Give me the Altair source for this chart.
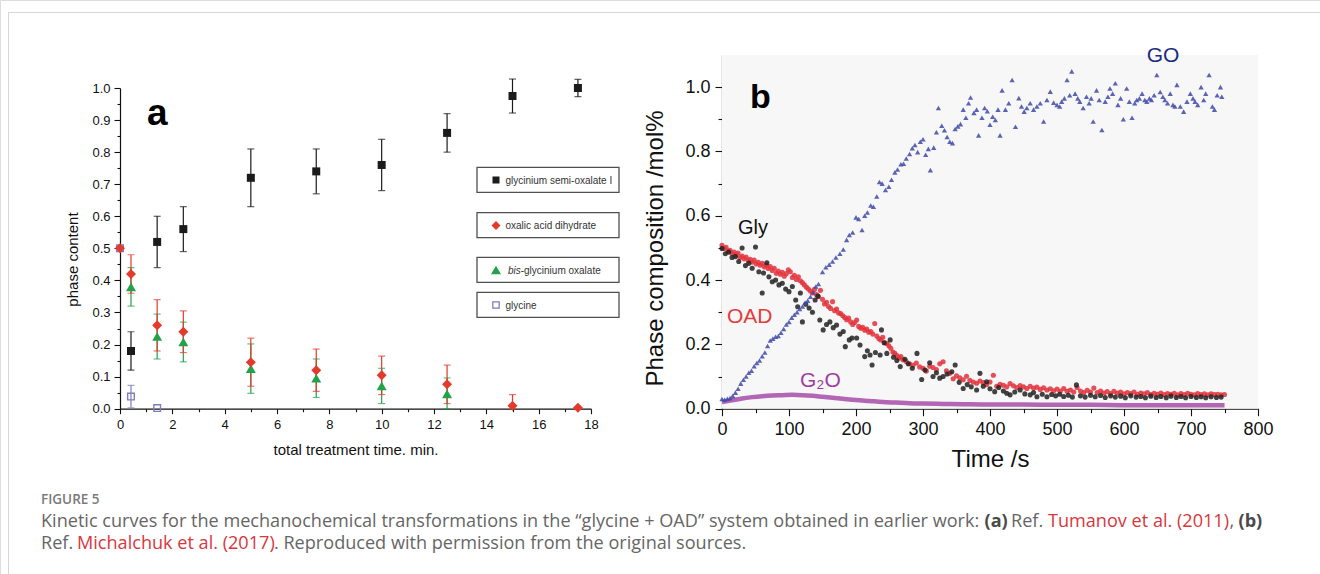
import altair as alt
import pandas as pd

W, H = 1320, 574
FONT = "Liberation Sans"
CAP_FONT = "Open Sans"

# ---------------- panel (a): phase content vs. total treatment time, min
a_time = [0.42, 1.42, 2.42, 5.0, 7.5, 10.0, 12.5, 15.0, 17.5]
semi_oxalate = [0.18, 0.52, 0.56, 0.72, 0.74, 0.76, 0.86, 0.975, 1.0]
semi_oxalate_err = [0.06, 0.08, 0.07, 0.09, 0.07, 0.08, 0.06, 0.053, 0.027]

oad_a_time = [0.0, 0.42, 1.42, 2.42, 5.0, 7.5, 10.0, 12.5, 15.0, 17.5]
oad_a = [0.50, 0.42, 0.26, 0.24, 0.145, 0.12, 0.104, 0.076, 0.009, 0.003]
oad_a_err = [0.0, 0.06, 0.08, 0.065, 0.075, 0.066, 0.06, 0.06, 0.035, 0.0]

bis_time = [0.42, 1.42, 2.42, 5.0, 7.5, 10.0, 12.5]
bis_oxalate = [0.38, 0.225, 0.208, 0.125, 0.095, 0.071, 0.046]
bis_err = [0.06, 0.07, 0.062, 0.077, 0.06, 0.055, 0.05]

gly_a_time = [0.0, 0.42, 1.42]
glycine_a = [0.50, 0.038, 0.002]
glycine_a_err = [0.0, 0.035, 0.0]

legend_labels = ["glycinium semi-oxalate I", "oxalic acid dihydrate",
                 "-glycinium oxalate", "glycine"]

# ---------------- panel (b): in situ phase composition vs. time, s
go_t = [0, 4, 8, 12, 16, 20, 24, 28, 32, 36,
        40, 44, 48, 52, 56, 60, 64, 68, 72, 76,
        80, 84, 88, 92, 96, 100, 104, 108, 112, 116,
        120, 124, 128, 132, 136, 140, 144, 150, 155, 160,
        165, 170, 176, 181, 186, 190, 195, 200, 204, 209,
        213, 217, 222, 226, 231, 235, 239, 244, 249, 253,
        258, 262, 267, 271, 275, 280, 284, 288, 292, 296,
        300, 304, 308, 311, 316, 320, 323, 328, 332, 336,
        340, 344, 348, 352, 356, 360, 364, 368, 371, 376,
        380, 383, 388, 392, 396, 400, 404, 408, 412, 415,
        418, 423, 428, 433, 438, 443, 447, 451, 455, 460,
        465, 470, 475, 480, 485, 490, 495, 500, 504, 507,
        511, 515, 519, 522, 527, 531, 534, 539, 544, 548,
        551, 554, 559, 563, 567, 572, 576, 579, 583, 587,
        591, 595, 599, 604, 608, 612, 616, 619, 623, 627,
        631, 634, 638, 641, 645, 649, 654, 658, 661, 665,
        669, 673, 676, 679, 684, 689, 694, 699, 703, 706,
        710, 715, 719, 722, 727, 732, 735, 739, 744, 746]
go_v = [0.030, 0.028, 0.031, 0.033, 0.040, 0.050, 0.062, 0.078, 0.090, 0.100,
        0.112, 0.118, 0.132, 0.142, 0.150, 0.163, 0.175, 0.195, 0.212, 0.218,
        0.224, 0.226, 0.236, 0.248, 0.262, 0.270, 0.283, 0.292, 0.300, 0.310,
        0.318, 0.330, 0.336, 0.348, 0.362, 0.380, 0.388, 0.425, 0.440, 0.448,
        0.458, 0.470, 0.482, 0.495, 0.525, 0.540, 0.548, 0.595, 0.590, 0.556,
        0.600, 0.610, 0.632, 0.628, 0.660, 0.705, 0.700, 0.680, 0.690, 0.712,
        0.735, 0.744, 0.760, 0.762, 0.778, 0.792, 0.810, 0.820, 0.798, 0.830,
        0.838, 0.790, 0.808, 0.742, 0.812, 0.860, 0.935, 0.880, 0.866, 0.845,
        0.830, 0.826, 0.870, 0.878, 0.885, 0.930, 0.905, 0.950, 0.968, 0.920,
        0.930, 0.850, 0.905, 0.935, 0.925, 0.883, 0.908, 0.898, 0.930, 0.850,
        0.990, 0.930, 0.950, 1.022, 0.877, 0.966, 0.940, 0.924, 0.935, 0.950,
        0.930, 0.940, 0.950, 0.893, 0.960, 0.986, 0.952, 0.945, 0.940, 0.955,
        0.965, 1.022, 0.975, 1.049, 0.980, 0.965, 0.955, 0.935, 0.970, 0.950,
        0.965, 0.893, 0.990, 0.960, 0.867, 0.955, 0.970, 0.996, 0.980, 1.012,
        0.945, 0.965, 0.900, 0.996, 0.955, 0.905, 0.950, 0.960, 0.965, 0.980,
        0.960, 0.955, 0.965, 0.960, 0.975, 1.038, 0.985, 0.970, 0.960, 0.950,
        0.980, 0.945, 0.940, 1.007, 0.940, 0.924, 0.955, 0.980, 0.965, 0.955,
        0.945, 1.000, 0.960, 0.980, 1.038, 0.940, 0.930, 0.975, 1.000, 0.970]

oad_t = [0, 3, 6, 9, 12, 15, 18, 21, 24, 27,
         30, 33, 36, 39, 42, 45, 48, 51, 54, 57,
         60, 63, 66, 69, 72, 75, 78, 81, 84, 87,
         90, 93, 96, 99, 102, 105, 108, 111, 114, 117,
         120, 123, 126, 129, 132, 135, 138, 141, 144, 147,
         150, 153, 156, 159, 162, 165, 168, 171, 174, 177,
         180, 183, 186, 189, 192, 195, 198, 201, 204, 207,
         210, 213, 216, 219, 222, 225, 228, 231, 234, 237,
         240, 243, 246, 249, 252, 255, 258, 261, 264, 267,
         270, 275, 280, 285, 290, 295, 300, 305, 310, 315,
         320, 325, 330, 335, 340, 345, 350, 355, 360, 365,
         370, 375, 380, 385, 390, 395, 400, 405, 410, 415,
         420, 425, 430, 435, 440, 445, 450, 455, 460, 465,
         470, 475, 480, 485, 490, 495, 500, 505, 510, 515,
         520, 525, 530, 535, 540, 545, 550, 555, 560, 565,
         570, 575, 580, 585, 590, 595, 600, 605, 610, 615,
         620, 625, 630, 635, 640, 645, 650, 655, 660, 665,
         670, 675, 680, 685, 690, 695, 700, 705, 710, 715,
         720, 725, 730, 735, 740, 745, 750]
oad_v = [0.508, 0.498, 0.502, 0.490, 0.493, 0.482, 0.487, 0.478, 0.484, 0.470,
         0.475, 0.466, 0.472, 0.461, 0.465, 0.456, 0.462, 0.450, 0.455, 0.446,
         0.452, 0.441, 0.447, 0.436, 0.442, 0.430, 0.437, 0.421, 0.428, 0.418,
         0.424, 0.412, 0.420, 0.432, 0.426, 0.408, 0.415, 0.402, 0.410, 0.398,
         0.392, 0.385, 0.378, 0.372, 0.366, 0.360, 0.371, 0.355, 0.349, 0.368,
         0.340, 0.326, 0.331, 0.318, 0.312, 0.333, 0.305, 0.310, 0.298, 0.296,
         0.290, 0.284, 0.277, 0.282, 0.270, 0.262, 0.268, 0.276, 0.256, 0.250,
         0.253, 0.244, 0.248, 0.238, 0.240, 0.232, 0.265, 0.226, 0.218, 0.214,
         0.222, 0.205, 0.203, 0.196, 0.188, 0.176, 0.172, 0.165, 0.158, 0.162,
         0.152, 0.147, 0.140, 0.135, 0.142, 0.130, 0.126, 0.117, 0.132, 0.128,
         0.122, 0.140, 0.146, 0.118, 0.110, 0.093, 0.102, 0.096, 0.090, 0.101,
         0.088, 0.083, 0.079, 0.086, 0.081, 0.075, 0.083, 0.104, 0.070, 0.076,
         0.073, 0.068, 0.078, 0.071, 0.066, 0.072, 0.068, 0.063, 0.070, 0.064,
         0.067, 0.060, 0.065, 0.058, 0.062, 0.056, 0.061, 0.055, 0.063, 0.054,
         0.058, 0.052, 0.066, 0.055, 0.050, 0.057, 0.052, 0.064, 0.050, 0.055,
         0.049, 0.053, 0.047, 0.054, 0.049, 0.052, 0.046, 0.050, 0.047, 0.052,
         0.045, 0.049, 0.046, 0.050, 0.044, 0.048, 0.045, 0.049, 0.044, 0.047,
         0.045, 0.048, 0.043, 0.047, 0.044, 0.048, 0.045, 0.043, 0.047, 0.044,
         0.046, 0.043, 0.046, 0.044, 0.045, 0.043, 0.044]

gly_t = [0, 5, 10, 15, 20, 25, 30, 35, 40, 45,
         50, 55, 60, 62, 67, 70, 75, 80, 85, 90,
         95, 100, 105, 110, 113, 117, 120, 125, 130, 135,
         139, 143, 146, 151, 156, 161, 166, 171, 176, 181,
         184, 190, 194, 201, 206, 213, 217, 221, 224, 229,
         236, 238, 242, 246, 251, 256, 261, 266, 273, 278,
         284, 291, 298, 303, 310, 315, 320, 325, 330, 336,
         343, 348, 354, 360, 366, 372, 380, 385, 390, 395,
         400, 407, 413, 420, 425, 430, 437, 445, 452, 460,
         465, 470, 478, 485, 492, 498, 504, 510, 517, 523,
         529, 535, 542, 550, 557, 565, 572, 580, 587, 595,
         602, 610, 618, 625, 632, 640, 648, 655, 663, 670,
         678, 685, 692, 700, 708, 715, 722, 730, 738, 745]
gly_v = [0.498, 0.482, 0.487, 0.470, 0.473, 0.458, 0.500, 0.445, 0.452, 0.437,
         0.503, 0.426, 0.360, 0.422, 0.454, 0.410, 0.395, 0.400, 0.385, 0.390,
         0.372, 0.364, 0.380, 0.338, 0.317, 0.360, 0.270, 0.325, 0.313, 0.300,
         0.338, 0.350, 0.276, 0.245, 0.262, 0.270, 0.252, 0.260, 0.232, 0.240,
         0.193, 0.214, 0.220, 0.220, 0.198, 0.162, 0.180, 0.167, 0.136, 0.175,
         0.167, 0.245, 0.205, 0.172, 0.214, 0.160, 0.150, 0.131, 0.154, 0.140,
         0.126, 0.172, 0.091, 0.120, 0.143, 0.100, 0.112, 0.095, 0.100, 0.108,
         0.115, 0.136, 0.082, 0.063, 0.075, 0.068, 0.058, 0.110, 0.070, 0.084,
         0.062, 0.053, 0.066, 0.055, 0.048, 0.043, 0.052, 0.058, 0.046, 0.043,
         0.050, 0.037, 0.045, 0.037, 0.044, 0.040, 0.045, 0.038, 0.042, 0.036,
         0.074, 0.040, 0.036, 0.042, 0.037, 0.041, 0.035, 0.040, 0.036, 0.039,
         0.034, 0.040, 0.036, 0.038, 0.034, 0.039, 0.035, 0.038, 0.034, 0.039,
         0.035, 0.038, 0.034, 0.038, 0.035, 0.037, 0.034, 0.037, 0.035, 0.036]

g2o_t = [0, 15, 30, 45, 60, 75, 90, 105, 120, 135, 150, 165, 180, 200, 220,
         240, 260, 280, 300, 330, 360, 400, 450, 500, 550, 600, 650, 700, 750]
g2o_v = [0.021, 0.026, 0.032, 0.036, 0.039, 0.041, 0.042, 0.043, 0.042, 0.040,
         0.037, 0.034, 0.031, 0.027, 0.024, 0.021, 0.019, 0.017, 0.016, 0.015,
         0.014, 0.013, 0.013, 0.012, 0.012, 0.011, 0.011, 0.011, 0.011]

# ---------------- caption
caption_head = "FIGURE 5"
caption_line1 = ["Kinetic curves for the mechanochemical transformations in the "
                 "\u201cglycine + OAD\u201d system obtained in earlier work:",
                 "(a)", "Ref.", "Tumanov et al. (2011)", ",", "(b)"]
caption_line2 = ["Ref.", "Michalchuk et al. (2017)",
                 ". Reproduced with permission from the original sources."]

# ---------------- colours
C_SEMI, C_OAD, C_BIS, C_GLY_A = "#1b1b1b", "#e43a2c", "#22a24a", "#7d7dc0"
C_GO, C_OAD_B, C_GLY_B, C_G2O = "#3f4aa8", "#e3313b", "#222222", "#a64ca8"
CAP_GREY, CAP_RED, CAP_BOLD = "#666666", "#d9363e", "#4a4a4a"

# ---------------- pixel frames of the two plot areas
sa_x = alt.Scale(domain=[0, 18], range=[120, 591], nice=False, zero=False)
sa_y = alt.Scale(domain=[0, 1.0], range=[408.7, 88], nice=False, zero=False)
sb_x = alt.Scale(domain=[0, 800], range=[722, 1258], nice=False, zero=False)
sb_y = alt.Scale(domain=[0, 1.1], range=[408.7, 55], nice=False, zero=False)


def make_axis(orient, offset, values, major, fmt, label_size, title, title_size,
              tick_major, tick_minor, label_pad, **kw):
    return alt.Axis(
        orient=orient, offset=offset, values=values, format=fmt,
        labelExpr=f"({major}) ? datum.label : ''",
        tickSize={"condition": {"test": major, "value": tick_major}, "value": tick_minor},
        labelFlush=False, labelOverlap=False, grid=False,
        domainColor="#111111", domainWidth=1.2, tickColor="#111111", tickWidth=1.1,
        labelColor="#111111", labelFont=FONT, labelFontSize=label_size,
        labelPadding=label_pad,
        title=title, titleFont=FONT, titleFontSize=title_size,
        titleFontWeight="normal", titleColor="#111111", **kw)


ax_a_x = make_axis("bottom", -(H - 408.7), list(range(0, 19)), "datum.value % 2 == 0", "d",
                   13, "total treatment time. min.", 15, 5, 3, 5,
                   titleBaseline="alphabetic", titleY=46)
ax_a_y = make_axis("left", -120, [round(i * 0.05, 2) for i in range(21)],
                   "abs(datum.value * 10 - round(datum.value * 10)) < 0.000001", ".1f",
                   13, "phase content", 15, 6, 3, 4,
                   titleAngle=-90, titleAlign="center", titleBaseline="middle",
                   titleX=-47.5, titleY=259)
ax_b_x = make_axis("bottom", -(H - 408.7), list(range(0, 801, 50)), "datum.value % 100 == 0", "d",
                   18, "Time /s", 24, 7, 4, 5,
                   titleBaseline="alphabetic", titleY=58)
ax_b_y = make_axis("left", -722, [round(i * 0.1, 1) for i in range(11)],
                   "abs(datum.value * 5 - round(datum.value * 5)) < 0.000001", ".1f",
                   18, "Phase composition /mol%", 24, 7, 4, 5,
                   titleAngle=-90, titleAlign="center", titleBaseline="middle",
                   titleX=-67, titleY=248)


def xa(field):
    return alt.X(field, scale=sa_x, axis=ax_a_x)


def ya(field):
    return alt.Y(field, scale=sa_y, axis=ax_a_y)


def xb(field):
    return alt.X(field, scale=sb_x, axis=ax_b_x)


def yb(field):
    return alt.Y(field, scale=sb_y, axis=ax_b_y)


# ---------------- panel (a) layers
series_a = [
    (gly_a_time, glycine_a, glycine_a_err, C_GLY_A, "square", False, 44),
    (bis_time, bis_oxalate, bis_err, C_BIS, "triangle-up", True, 100),
    (oad_a_time, oad_a, oad_a_err, C_OAD, "diamond", True, 100),
    (a_time, semi_oxalate, semi_oxalate_err, C_SEMI, "square", True, 64),
]

bar_layers, point_layers = [], []
for t, v, err, col, shape, filled, size in series_a:
    df = pd.DataFrame({"t": t, "v": v, "err": err})
    eb = df[df["err"] > 0].copy()
    eb["lo"] = (eb["v"] - eb["err"]).clip(lower=0)
    eb["hi"] = eb["v"] + eb["err"]
    base = alt.Chart(eb)
    bar_layers.append(base.mark_rule(color=col, strokeWidth=1.2).encode(
        x=xa("t:Q"), y=ya("lo:Q"), y2="hi:Q"))
    for end in ("lo", "hi"):
        bar_layers.append(base.mark_tick(color=col, orient="horizontal", size=7,
                                         thickness=1.2).encode(x=xa("t:Q"), y=ya(f"{end}:Q")))
    if filled:
        mk = alt.Chart(df).mark_point(shape=shape, filled=True, size=size, color=col, opacity=1)
    else:
        mk = alt.Chart(df).mark_point(shape=shape, filled=False, size=size, color=col,
                                      strokeWidth=1.4, opacity=1)
    point_layers.append(mk.encode(x=xa("t:Q"), y=ya("v:Q")))

panel_a = alt.layer(*bar_layers, *point_layers)

# ---------------- panel (b) layers
bg_b = alt.Chart(pd.DataFrame({"t0": [0], "t1": [800], "v0": [0.0], "v1": [1.1]})).mark_rect(
    color="#f7f7f7").encode(x=xb("t0:Q"), x2="t1:Q", y=yb("v0:Q"), y2="v1:Q")
g2o_line = alt.Chart(pd.DataFrame({"t": g2o_t, "v": g2o_v})).mark_line(
    color=C_G2O, strokeWidth=4.5, opacity=0.85, interpolate="monotone").encode(
    x=xb("t:Q"), y=yb("v:Q"))
oad_pts = alt.Chart(pd.DataFrame({"t": oad_t, "v": oad_v})).mark_circle(
    color=C_OAD_B, size=26, opacity=0.85).encode(x=xb("t:Q"), y=yb("v:Q"))
gly_pts = alt.Chart(pd.DataFrame({"t": gly_t, "v": gly_v})).mark_circle(
    color=C_GLY_B, size=26, opacity=0.85).encode(x=xb("t:Q"), y=yb("v:Q"))
go_pts = alt.Chart(pd.DataFrame({"t": go_t, "v": go_v})).mark_point(
    shape="triangle-up", filled=True, color=C_GO, size=28, opacity=0.85).encode(
    x=xb("t:Q"), y=yb("v:Q"))

panel_b = alt.layer(bg_b, g2o_line, oad_pts, gly_pts, go_pts)

# ---------------- annotations drawn in pixel space
one = pd.DataFrame({"k": [0]})


def label(text, x, y, size, color, weight="normal", align="left", style="normal", font=FONT):
    return alt.Chart(pd.DataFrame({"s": [text]})).mark_text(
        align=align, baseline="alphabetic", font=font, fontSize=size, color=color,
        fontWeight=weight, fontStyle=style).encode(
        text="s:N", x=alt.value(x), y=alt.value(y))


frame = [
    alt.Chart(one).mark_rule(color="#d6d6d6", strokeWidth=1).encode(
        x=alt.value(8), x2=alt.value(W), y=alt.value(12.5)),
    alt.Chart(one).mark_rule(color="#d6d6d6", strokeWidth=1).encode(
        x=alt.value(8.5), y=alt.value(12), y2=alt.value(H)),
]

# boxed legend of panel (a)
box_tops = [167.3, 212.7, 257.3, 292.3]
legend_marks = [
    ("square", True, 49, C_SEMI),
    ("diamond", True, 81, C_OAD),
    ("triangle-up", True, 100, C_BIS),
    ("square", False, 40, C_GLY_A),
]
legend = []
for top, (shape, filled, size, col), text in zip(box_tops, legend_marks, legend_labels):
    legend.append(alt.Chart(one).mark_rect(fill="white", stroke="#505050", strokeWidth=1.3).encode(
        x=alt.value(477), x2=alt.value(619), y=alt.value(top), y2=alt.value(top + 25)))
    if filled:
        pm = alt.Chart(one).mark_point(shape=shape, filled=True, size=size, color=col, opacity=1)
    else:
        pm = alt.Chart(one).mark_point(shape=shape, filled=False, size=size, color=col,
                                       strokeWidth=1.3, opacity=1)
    legend.append(pm.encode(x=alt.value(496), y=alt.value(top + 12.7)))
    tx = 520.7 if text.startswith("-") else 505.5
    legend.append(label(text, tx, top + 16.3, 10, "#333333"))
legend.append(label("bis", 508, box_tops[2] + 16.3, 10, "#333333", style="italic"))

panel_labels = [
    label("a", 147, 125, 37, "#000000", weight="bold"),
    label("b", 750, 108, 34, "#000000", weight="bold"),
    label("GO", 1163, 61.5, 21, "#1c2a80", align="center"),
    label("Gly", 738, 234, 20, "#111111"),
    label("OAD", 727, 323, 21, "#e33c3c"),
    label("G\u2082O", 800, 386.5, 21, "#a03ca0"),
]

# caption: segments of one running text, each placed where the previous one ends
CS = 18.1
caption = [
    label(caption_head, 41, 504, 13.5, "#7a7a7a", weight=600, font=CAP_FONT),
    label(caption_line1[0], 41, 526.5, CS, CAP_GREY, font=CAP_FONT),
    label(caption_line1[1], 984.5, 526.5, CS, CAP_BOLD, weight="bold", font=CAP_FONT),
    label(caption_line1[2], 1011, 526.5, CS, CAP_GREY, font=CAP_FONT),
    label(caption_line1[3], 1048, 526.5, CS, CAP_RED, font=CAP_FONT),
    label(caption_line1[4], 1229.5, 526.5, CS, CAP_GREY, font=CAP_FONT),
    label(caption_line1[5], 1238.5, 526.5, CS, CAP_BOLD, weight="bold", font=CAP_FONT),
    label(caption_line2[0], 41, 549, CS, CAP_GREY, font=CAP_FONT),
    label(caption_line2[1], 77, 549, CS, CAP_RED, font=CAP_FONT),
    label(caption_line2[2], 274, 549, CS, CAP_GREY, font=CAP_FONT),
]

chart = alt.layer(
    *frame, panel_a, panel_b, *legend, *panel_labels, *caption
).resolve_scale(
    x="independent", y="independent"
).properties(
    width=W, height=H, autosize=alt.AutoSizeParams(type="none"), padding=0
).configure_view(
    strokeWidth=0
).configure(
    background="white"
)

chart.save("out.html", embed_options={"renderer": "svg", "actions": False})
